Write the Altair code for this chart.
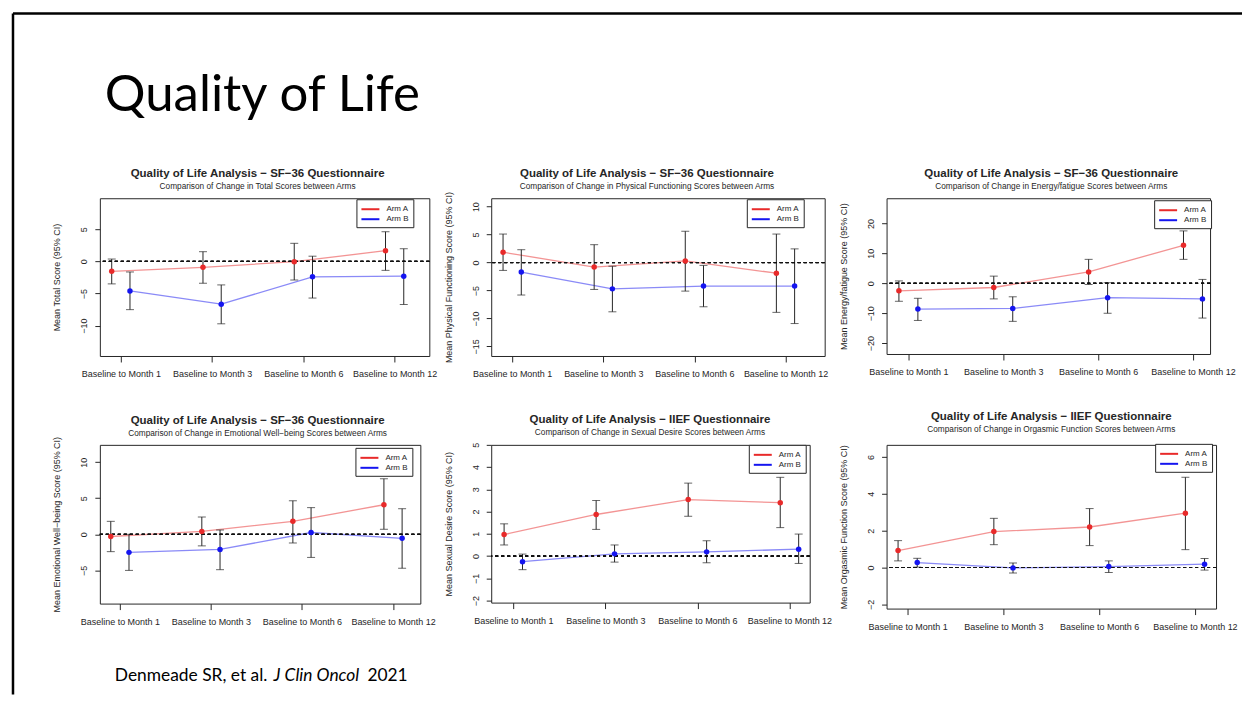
import json
import pandas as pd
import altair as alt

# ---------------- data ----------------
MONTHS = ["Baseline to Month 1", "Baseline to Month 3", "Baseline to Month 6", "Baseline to Month 12"]
ARMS = ["Arm A", "Arm B"]

SF36 = "Quality of Life Analysis \u2212 SF\u221236 Questionnaire"
IIEF = "Quality of Life Analysis \u2212 IIEF Questionnaire"

# Total score
TOT_A_MEAN = [-1.55, -0.93, -0.05, 1.65]
TOT_A_LO = [-3.5, -3.4, -2.9, -1.4]
TOT_A_HI = [0.36, 1.5, 2.8, 4.6]
TOT_B_MEAN = [-4.6, -6.65, -2.4, -2.3]
TOT_B_LO = [-7.5, -9.7, -5.7, -6.7]
TOT_B_HI = [-1.65, -3.66, 0.8, 1.96]

# Physical functioning
PHY_A_MEAN = [1.85, -0.8, 0.3, -1.9]
PHY_A_LO = [-1.4, -4.8, -5.1, -8.9]
PHY_A_HI = [5.1, 3.2, 5.6, 5.1]
PHY_B_MEAN = [-1.7, -4.7, -4.2, -4.2]
PHY_B_LO = [-5.8, -8.8, -7.9, -10.9]
PHY_B_HI = [2.3, -0.65, -0.5, 2.45]

# Energy / fatigue
ENE_A_MEAN = [-2.5, -1.4, 3.8, 12.7]
ENE_A_LO = [-6.0, -5.2, -0.4, 8.0]
ENE_A_HI = [0.8, 2.4, 8.0, 17.5]
ENE_B_MEAN = [-8.6, -8.4, -4.8, -5.2]
ENE_B_LO = [-12.4, -12.7, -10.0, -11.6]
ENE_B_HI = [-5.0, -4.5, 0.2, 1.3]

# Emotional well-being
EMO_A_MEAN = [-0.3, 0.4, 1.8, 4.1]
EMO_A_LO = [-2.4, -1.6, -1.2, 0.7]
EMO_A_HI = [1.8, 2.4, 4.65, 7.7]
EMO_B_MEAN = [-2.5, -2.1, 0.25, -0.55]
EMO_B_LO = [-5.0, -4.9, -3.2, -4.7]
EMO_B_HI = [0.0, 0.6, 3.7, 3.55]

# Sexual desire
SEX_A_MEAN = [0.97, 1.87, 2.54, 2.4]
SEX_A_LO = [0.5, 1.2, 1.79, 1.28]
SEX_A_HI = [1.45, 2.5, 3.28, 3.54]
SEX_B_MEAN = [-0.25, 0.1, 0.19, 0.31]
SEX_B_LO = [-0.61, -0.27, -0.3, -0.33]
SEX_B_HI = [0.09, 0.5, 0.69, 0.99]

# Orgasmic function
ORG_A_MEAN = [0.92, 1.95, 2.2, 2.95]
ORG_A_LO = [0.36, 1.24, 1.19, 0.97]
ORG_A_HI = [1.46, 2.67, 3.2, 4.9]
ORG_B_MEAN = [0.27, -0.02, 0.05, 0.18]
ORG_B_LO = [0.02, -0.3, -0.27, -0.14]
ORG_B_HI = [0.5, 0.25, 0.36, 0.49]

SLIDE_TITLE = "Quality of Life"
CITE_1 = "Denmeade SR, et al."
CITE_2 = "J Clin Oncol"
CITE_3 = "2021"

RED = "#e82a2a"
BLUE = "#1515f0"
INK = "#262626"
CHART_FONT = "Liberation Sans"
SLIDE_FONT = "Lato"


def make_df(am, alo, ahi, bm, blo, bhi):
    rows = []
    for arm, m, lo, hi in (("Arm A", am, alo, ahi), ("Arm B", bm, blo, bhi)):
        for i, month in enumerate(MONTHS):
            rows.append({"arm": arm, "month": month, "idx": i + 1,
                         "mean": m[i], "lo": lo[i], "hi": hi[i]})
    return pd.DataFrame(rows)


LABEL_EXPR = "[" + ",".join(json.dumps(m) for m in MONTHS) + "][datum.value - 1]"


def text_layer(txt, x, y, size, font=SLIDE_FONT, style="normal", weight="normal",
               align="left", baseline="alphabetic"):
    return alt.Chart(pd.DataFrame({"t": [txt]})).mark_text(
        align=align, baseline=baseline, font=font, fontSize=size,
        fontStyle=style, fontWeight=weight, color="black" if font == SLIDE_FONT else INK
    ).encode(x=alt.value(x), y=alt.value(y), text="t:N")


def panel(df, main, sub, ytitle, xdom, ydom, yticks, w, h, lx, ly, tx, ty, deco=()):
    xscale = alt.Scale(domain=xdom, nice=False, zero=False)
    yscale = alt.Scale(domain=ydom, nice=False, zero=False)
    xaxis = alt.Axis(values=[1, 2, 3, 4], labelExpr=LABEL_EXPR, title=None,
                     labelOverlap=False, labelFlush=False, tickSize=6, labelPadding=8)
    yaxis = alt.Axis(values=yticks, title=ytitle, labelAngle=-90, tickSize=5,
                     labelPadding=6, titlePadding=18, labelOverlap=False, labelFlush=False)
    X = alt.X("xp:Q", scale=xscale, axis=xaxis)
    color = alt.Color("arm:N", title=None,
                      scale=alt.Scale(domain=ARMS, range=[RED, BLUE]),
                      legend=alt.Legend(orient="none", legendX=lx, legendY=ly))
    base = alt.Chart(df).transform_calculate(
        xp="datum.idx + (datum.arm == 'Arm A' ? -0.1 : 0.1)")

    lines = base.mark_line(strokeWidth=1.3, opacity=0.5).encode(
        x=X, y=alt.Y("mean:Q", scale=yscale, axis=yaxis), color=color)
    bars = base.mark_rule(color=INK, strokeWidth=1).encode(
        x=X, y=alt.Y("lo:Q", scale=yscale, axis=yaxis), y2="hi:Q")
    cap_lo = base.mark_tick(orient="horizontal", size=8, thickness=1, color=INK).encode(
        x=X, y=alt.Y("lo:Q", scale=yscale, axis=yaxis))
    cap_hi = base.mark_tick(orient="horizontal", size=8, thickness=1, color=INK).encode(
        x=X, y=alt.Y("hi:Q", scale=yscale, axis=yaxis))
    zero = base.mark_rule(strokeDash=[3, 3], color="#111", strokeWidth=1).encode(
        y=alt.Y(datum=0, scale=yscale, axis=yaxis))
    points = base.mark_point(filled=True, size=30, opacity=1).encode(
        x=X, y=alt.Y("mean:Q", scale=yscale, axis=yaxis), color=color)
    t_main = text_layer(main, tx, ty, 11.5, CHART_FONT, weight="bold",
                        align="center", baseline="middle")
    t_sub = text_layer(sub, tx, ty + 13, 8.3, CHART_FONT,
                       align="center", baseline="middle")

    return alt.layer(lines, bars, cap_lo, cap_hi, zero, points, t_main, t_sub,
                     *deco).properties(width=w, height=h)


border = alt.Chart(pd.DataFrame({"k": [0]}))
deco = [
    border.mark_rule(color="black", strokeWidth=2.5).encode(
        x=alt.value(-87), x2=alt.value(1144), y=alt.value(-185), y2=alt.value(-185)),
    border.mark_rule(color="black", strokeWidth=2.5).encode(
        x=alt.value(-87), x2=alt.value(-87), y=alt.value(-185), y2=alt.value(497)),
    text_layer(SLIDE_TITLE, 5, -87, 51),
    text_layer(CITE_1, 15, 484, 17.4),
    text_layer(CITE_2, 174, 484, 17.4, style="italic"),
    text_layer(CITE_3, 268, 484, 17.4),
]

p1 = panel(make_df(TOT_A_MEAN, TOT_A_LO, TOT_A_HI, TOT_B_MEAN, TOT_B_LO, TOT_B_HI),
           SF36, "Comparison of Change in Total Scores between Arms",
           "Mean Total Score (95% CI)", [0.77, 4.38], [-14.7, 9.8], [-10, -5, 0, 5],
           330, 158, 257, 1, 158, -24, deco)
p2 = panel(make_df(PHY_A_MEAN, PHY_A_LO, PHY_A_HI, PHY_B_MEAN, PHY_B_LO, PHY_B_HI),
           SF36, "Comparison of Change in Physical Functioning Scores between Arms",
           "Mean Physical Functioning Score (95% CI)", [0.77, 4.43], [-16.7, 11.5],
           [-15, -10, -5, 0, 5, 10], 334, 158, 256, 1, 156, -24)
p3 = panel(make_df(ENE_A_MEAN, ENE_A_LO, ENE_A_HI, ENE_B_MEAN, ENE_B_LO, ENE_B_HI),
           SF36, "Comparison of Change in Energy/fatigue Scores between Arms",
           "Mean Energy/fatigue Score (95% CI)", [0.77, 4.18], [-23.6, 28.4],
           [-20, -10, 0, 10, 20], 324, 156, 268, 2, 165, -24)
p4 = panel(make_df(EMO_A_MEAN, EMO_A_LO, EMO_A_HI, EMO_B_MEAN, EMO_B_LO, EMO_B_HI),
           SF36, "Comparison of Change in Emotional Well\u2212being Scores between Arms",
           "Mean Emotional Well\u2212being Score (95% CI)", [0.78, 4.30], [-9.6, 12.4],
           [-5, 0, 5, 10], 321, 159, 256, 3, 158, -24)
p5 = panel(make_df(SEX_A_MEAN, SEX_A_LO, SEX_A_HI, SEX_B_MEAN, SEX_B_LO, SEX_B_HI),
           IIEF, "Comparison of Change in Sexual Desire Scores between Arms",
           "Mean Sexual Desire Score (95% CI)", [0.76, 4.22], [-2.09, 5.0],
           [-2, -1, 0, 1, 2, 3, 4, 5], 319, 158, 258, 0, 159, -25)
p6 = panel(make_df(ORG_A_MEAN, ORG_A_LO, ORG_A_HI, ORG_B_MEAN, ORG_B_LO, ORG_B_HI),
           IIEF, "Comparison of Change in Orgasmic Function Scores between Arms",
           "Mean Orgasmic Function Score (95% CI)", [0.78, 4.22], [-2.23, 6.66],
           [-2, 0, 2, 4, 6], 330, 164, 269, -1, 165, -28)

chart = alt.concat(p1, p2, p3, p4, p5, p6, columns=3,
                   spacing={"row": 89, "column": 62}, bounds="flush").resolve_scale(
    color="independent"
).properties(
    padding={"left": 3, "top": 3, "right": 0, "bottom": 0},
    background="white",
).configure_view(
    stroke=INK, strokeWidth=1
).configure_axis(
    grid=False, domain=False, labelFont=CHART_FONT, labelFontSize=9,
    labelColor=INK, titleFont=CHART_FONT, titleFontSize=9, titleFontWeight="normal",
    titleColor=INK, tickColor=INK, tickWidth=1
).configure_legend(
    strokeColor=INK, fillColor="white", padding=4, cornerRadius=0,
    labelFont=CHART_FONT, labelFontSize=8, labelColor=INK, labelOffset=10,
    symbolType="M-1.8,0H1.8", symbolStrokeWidth=2, symbolSize=100, symbolOpacity=1,
    symbolOffset=4, rowPadding=0
)

chart.save("out.html", embed_options={"renderer": "svg", "actions": False})
